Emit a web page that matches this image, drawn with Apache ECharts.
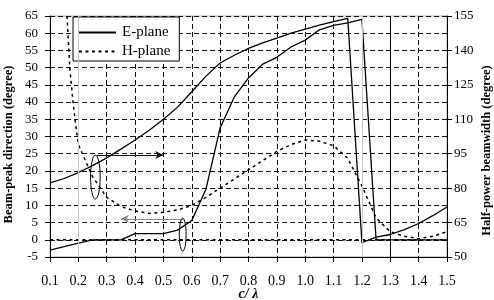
<!DOCTYPE html>
<html>
<head>
<meta charset="utf-8">
<script src="https://cdn.jsdelivr.net/npm/echarts@6/dist/echarts.min.js"></script>
<style>
  html, body { margin: 0; padding: 0; background: #fff; }
  #chart { width: 494px; height: 300px; }
</style>
</head>
<body>
<div id="chart"></div>
<script>
// c/lambda sample points shared by most curves
const cLambda = [0.1, 0.15, 0.2, 0.25, 0.3, 0.35, 0.4, 0.45, 0.5, 0.55, 0.6, 0.65, 0.7, 0.75,
  0.8, 0.85, 0.9, 0.95, 1.0, 1.05, 1.1, 1.15, 1.2, 1.25, 1.3, 1.35, 1.4, 1.45, 1.5]

// beam-peak direction (left axis, degree)
const eBeamPeak = [-3, -2, -1, 0, 0, 0, 1.8, 1.8, 1.8, 2.8, 5.6, 14.7, 32.5, 41.5,
  47, 51, 53, 56, 58, 61, 62.3, 63, 64, 0, 0, 0, 0, 0, 0]
const hBeamPeak = cLambda.map(() => 0)

// half-power beamwidth (right axis, degree)
const eBeamwidth = [82.3, 84.2, 86.8, 89.8, 93.2, 97, 101, 105.2, 110, 115.3, 122, 128.8, 134.5, 137.9,
  140.9, 143.3, 145.4, 147.5, 149.3, 151, 152.5, 154, 56.2, 58.7, 59.8, 61.9, 64.6, 68, 71.8]
const hLambda = [0.16, 0.17, 0.18, 0.19, 0.2, 0.25, 0.3, 0.35, 0.4, 0.45, 0.5, 0.55, 0.6, 0.65, 0.7,
  0.75, 0.8, 0.85, 0.9, 0.95, 1.0, 1.05, 1.1, 1.15, 1.2, 1.25, 1.3, 1.35, 1.4, 1.45, 1.5]
const hBeamwidth = [155, 132, 119, 108, 99, 85, 76, 72, 70, 69, 69.5, 70.5, 72.5, 76, 80,
  84, 88, 92, 96, 99, 101, 100.5, 98.5, 93, 81, 67, 61, 59, 58, 59, 61]

// tick values
const rightTicks = [50, 65, 80, 95, 110, 125, 140, 155]

// annotations: ellipses (left axis units) and arrows
const ellipseX = [0.26, 0.568]
const ellipseHalfW = [0.017, 0.012]
const ellipseLow = [11.8, -3.3]
const ellipseHigh = [24.6, 6.3]
const arrowFrom = [[0.265, 24.6], [0.57, 6.1]]
const arrowTo = [[0.5, 24.6], [0.35, 6.1]]
const arrowColors = ['#111', '#888']
const markX = [0.2, 1.2, 1.3]
const markXColors = ['#c8c8c8', '#c8c8c8', '#000']

const serif = '"Liberation Serif", "Times New Roman", serif'
const zip = (xs, ys) => xs.map((x, i) => [x, ys[i]])

const chart = echarts.init(document.getElementById('chart'))

const solid = { color: '#000', width: 1.3, type: 'solid' }
const dashed = { color: '#000', width: 1.5, type: [3, 3.5] }

const option = {
  animation: false,
  backgroundColor: '#fff',
  textStyle: { fontFamily: serif, color: '#000' },
  grid: {
    left: 50, right: 47, top: 16, bottom: 43,
    containLabel: false,
    outerBoundsMode: 'none',
    show: true, borderColor: '#aaa', borderWidth: 1
  },
  legend: {
    data: ['E-plane', 'H-plane'],
    orient: 'vertical',
    left: 73, top: 17,
    itemWidth: 37, itemHeight: 14, itemGap: 4,
    padding: [8, 9, 2, 5],
    backgroundColor: '#fff',
    borderColor: '#000', borderWidth: 1,
    itemStyle: { opacity: 0 },
    textStyle: { fontFamily: serif, fontSize: 15, color: '#000', padding: [0, 0, 0, 1] }
  },
  xAxis: {
    type: 'value',
    min: 0.1, max: 1.5, interval: 0.1,
    name: 'c/ λ',
    nameLocation: 'middle',
    nameGap: 30,
    nameMoveOverlap: false,
    nameTextStyle: { fontFamily: serif, fontSize: 14, fontWeight: 'bold', fontStyle: 'italic', color: '#000' },
    axisLine: { onZero: false, lineStyle: { color: '#000', width: 1 } },
    axisTick: { inside: false, length: 5, lineStyle: { color: '#000' } },
    axisLabel: { fontFamily: serif, fontSize: 14, color: '#000', margin: 17, formatter: v => v.toFixed(1) },
    splitLine: { show: true, lineStyle: { color: '#111', type: [5, 3], width: 1 } }
  },
  yAxis: [
    {
      type: 'value',
      min: -5, max: 65, interval: 5,
      name: 'Beam-peak direction (degree)',
      nameLocation: 'middle',
      nameRotate: 90,
      nameGap: 35,
      nameMoveOverlap: false,
      nameTextStyle: { fontFamily: serif, fontSize: 12.5, fontWeight: 'bold', color: '#000', padding: [0, 16, 0, 0] },
      axisLine: { show: true, onZero: false, lineStyle: { color: '#000', width: 1 } },
      axisTick: { show: true, length: 5, lineStyle: { color: '#000' } },
      axisLabel: { fontFamily: serif, fontSize: 13, color: '#000', margin: 12 },
      splitLine: { show: true, lineStyle: { color: '#111', type: [5, 3], width: 1 } }
    },
    {
      type: 'value',
      position: 'right',
      min: 50, max: 155, interval: 5,
      name: 'Half-power beamwidth (degree)',
      nameLocation: 'middle',
      nameRotate: 90,
      nameGap: 33,
      nameMoveOverlap: false,
      nameTextStyle: { fontFamily: serif, fontSize: 12.5, fontWeight: 'bold', color: '#000', padding: [0, 28, 0, 0] },
      axisLine: { show: true, onZero: false, lineStyle: { color: '#000', width: 1 } },
      axisTick: { show: true, length: 5, customValues: rightTicks, lineStyle: { color: '#000' } },
      axisLabel: { fontFamily: serif, fontSize: 13, color: '#000', margin: 7, customValues: rightTicks },
      splitLine: { show: false }
    }
  ],
  series: [
    {
      name: 'E-plane',
      type: 'line',
      yAxisIndex: 0,
      data: zip(cLambda, eBeamPeak),
      showSymbol: false, symbol: 'none',
      lineStyle: solid,
      itemStyle: { color: '#000' },
      z: 4,
      markLine: {
        silent: true,
        symbol: 'none',
        label: { show: false },
        emphasis: { disabled: true },
        data: markX.map((x, i) => ({ xAxis: x, lineStyle: { color: markXColors[i], type: 'solid', width: 1 } }))
      }
    },
    {
      name: 'E-plane',
      type: 'line',
      yAxisIndex: 1,
      data: zip(cLambda, eBeamwidth),
      showSymbol: false, symbol: 'none',
      lineStyle: solid,
      itemStyle: { color: '#000' },
      z: 4
    },
    {
      name: 'H-plane',
      type: 'line',
      yAxisIndex: 0,
      data: zip(cLambda, hBeamPeak),
      showSymbol: false, symbol: 'none',
      lineStyle: dashed,
      itemStyle: { color: '#000' },
      z: 4,
      markLine: {
        silent: true,
        symbol: ['none', 'arrow'],
        symbolSize: [6, 8],
        label: { show: false },
        emphasis: { disabled: true },
        data: arrowFrom.map((p, i) => [
          { coord: p, lineStyle: { color: arrowColors[i], type: 'solid', width: 1.2 }, itemStyle: { color: arrowColors[i] } },
          { coord: arrowTo[i] }
        ])
      }
    },
    {
      name: 'H-plane',
      type: 'line',
      yAxisIndex: 1,
      data: zip(hLambda, hBeamwidth),
      showSymbol: false, symbol: 'none',
      lineStyle: dashed,
      itemStyle: { color: '#000' },
      z: 4
    },
    {
      type: 'custom',
      yAxisIndex: 0,
      silent: true,
      z: 5,
      data: ellipseX.map((x, i) => [x, ellipseLow[i], ellipseHigh[i], ellipseHalfW[i]]),
      renderItem: (params, api) => {
        const topLeft = api.coord([api.value(0) - api.value(3), api.value(2)])
        const bottomRight = api.coord([api.value(0) + api.value(3), api.value(1)])
        return {
          type: 'ellipse',
          shape: {
            cx: (topLeft[0] + bottomRight[0]) / 2,
            cy: (topLeft[1] + bottomRight[1]) / 2,
            rx: (bottomRight[0] - topLeft[0]) / 2,
            ry: (bottomRight[1] - topLeft[1]) / 2
          },
          style: { fill: 'none', stroke: '#000', lineWidth: 1 }
        }
      }
    }
  ]
}

chart.setOption(option)
</script>
</body>
</html>
